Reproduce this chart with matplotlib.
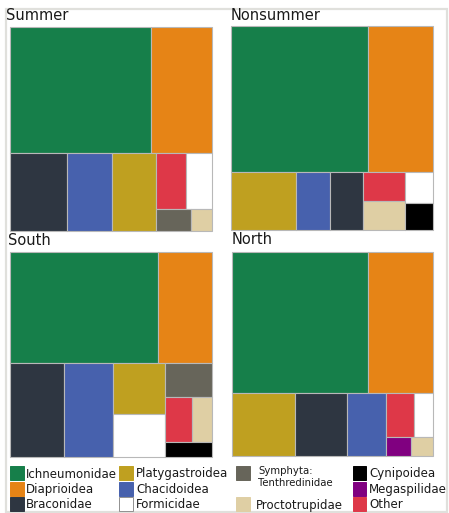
import matplotlib
matplotlib.use("Agg")
import matplotlib.pyplot as plt
from matplotlib.patches import Rectangle

W, H = 449, 513

categories = ["Ichneumonidae", "Diaprioidea", "Braconidae", "Platygastroidea", "Chacidoidea",
              "Formicidae", "Symphyta: Tenthredinidae", "Proctotrupidae", "Cynipoidea",
              "Megaspilidae", "Other"]
colors = ["#167f4a", "#e68416", "#2e3641", "#bfa020", "#4761ad",
          "#ffffff", "#67655a", "#dfcfa4", "#000000", "#800080", "#de3848"]

# percent of specimens per panel (same order as categories)
summer    = [43.1, 18.6, 10.7, 8.4, 8.6, 3.5, 1.9, 1.1, 0.0, 0.0, 4.0]
nonsummer = [48.6, 22.9, 4.7, 9.1, 4.8, 2.1, 0.0, 2.95, 1.8, 0.0, 3.05]
south     = [39.7, 14.3, 12.3, 6.4, 11.2, 5.3, 3.9, 2.1, 1.7, 0.0, 3.0]
north     = [46.7, 22.2, 8.1, 9.7, 6.0, 2.0, 0.0, 1.05, 0.0, 1.15, 3.0]

panel_titles = ["Summer", "Nonsummer", "South", "North"]
panel_values = [summer, nonsummer, south, north]
# tiling option: number of tiles in each successive strip of the treemap
panel_strips = [[2, 1, 1, 1, 2, 1, 1],
                [2, 1, 1, 1, 2, 1, 1],
                [2, 1, 1, 2, 1, 2, 1],
                [2, 1, 1, 1, 2, 1, 1]]

legend_cols = [["Ichneumonidae", "Diaprioidea", "Braconidae"],
               ["Platygastroidea", "Chacidoidea", "Formicidae"],
               ["Symphyta: Tenthredinidae", None, "Proctotrupidae"],
               ["Cynipoidea", "Megaspilidae", "Other"]]


def strip_treemap(values, strips, x0, y0, x1, y1):
    """Strip/squarified-style treemap: each strip is laid along the shorter side."""
    rects = []
    value = float(sum(values))
    i0 = 0
    for k in strips:
        row = values[i0:i0 + k]
        sumv = float(sum(row))
        dx, dy = x1 - x0, y1 - y0
        if dx < dy:
            h = dy * sumv / value
            xx = x0
            for v in row:
                w = dx * v / sumv
                rects.append((xx, y0, w, h))
                xx += w
            y0 += h
        else:
            w = dx * sumv / value
            yy = y0
            for v in row:
                hh = dy * v / sumv
                rects.append((x0, yy, w, hh))
                yy += hh
            x0 += w
        value -= sumv
        i0 += k
    return rects


fig = plt.figure(figsize=(W / 100, H / 100), dpi=100)
fig.patch.set_facecolor("white")

# outer frame
fig.patches.append(Rectangle((6 / W, 1 - 511.5 / H), 440.5 / W, 503 / H, transform=fig.transFigure,
                             fill=False, edgecolor="#e0e0dc", linewidth=1.6))

# panel boxes in pixel coordinates (x0, y0, x1, y1), y from top
boxes = [(10.3, 27.3, 211.7, 231.3), (231.3, 25.7, 432.7, 230.0),
         (10.3, 252.3, 211.7, 456.7), (232.0, 252.0, 433.0, 456.3)]
title_pos = [(6, 16), (231, 15.5), (8, 240.5), (231.5, 240)]

for (bx0, by0, bx1, by1), vals, strips, title, tp in zip(boxes, panel_values, panel_strips,
                                                         panel_titles, title_pos):
    ax = fig.add_axes([bx0 / W, 1 - by1 / H, (bx1 - bx0) / W, (by1 - by0) / H])
    pw, ph = bx1 - bx0, by1 - by0
    items = sorted([(v, c, col) for v, c, col in zip(vals, categories, colors) if v > 0],
                   key=lambda t: -t[0])
    rects = strip_treemap([t[0] for t in items], strips, 0, 0, pw, ph)
    for (x, y, w, h), (_, _, col) in zip(rects, items):
        ax.add_patch(Rectangle((x, y), w, h, facecolor=col, edgecolor="#b8b8b8",
                               linewidth=0.8, clip_on=False))
    ax.set_xlim(0, pw)
    ax.set_ylim(ph, 0)
    ax.axis("off")
    fig.text(tp[0] / W, 1 - tp[1] / H, title, fontsize=10.5, color="#1a1a1a",
             ha="left", va="center", family="DejaVu Sans")

# legend
col_x = [10, 119, 236, 352.5]
text_x = [26, 136, 258, 369]
row_y = [466, 481.5, 497]
sq_w, sq_h = 13.5, 14
cmap = dict(zip(categories, colors))
for ci, col in enumerate(legend_cols):
    for ri, lab in enumerate(col):
        if lab is None:
            continue
        y = row_y[ri]
        edge = "#909090" if lab == "Formicidae" else cmap[lab]
        fig.patches.append(Rectangle((col_x[ci] / W, 1 - (y + sq_h) / H), sq_w / W, sq_h / H,
                                     transform=fig.transFigure, facecolor=cmap[lab],
                                     edgecolor=edge, linewidth=0.7))
        if lab.startswith("Symphyta"):
            fig.text(258 / W, 1 - 470.5 / H, "Symphyta:", fontsize=7.3, color="#1a1a1a",
                     ha="left", va="center")
            fig.text(258 / W, 1 - 482.5 / H, "Tenthredinidae", fontsize=7.3, color="#1a1a1a",
                     ha="left", va="center")
        else:
            tx = 256 if lab == "Proctotrupidae" else text_x[ci]
            fig.text(tx / W, 1 - (y + sq_h / 2 + 1) / H, lab, fontsize=8.5, color="#1a1a1a",
                     ha="left", va="center")

fig.savefig("out.png", dpi=100, facecolor="white")
